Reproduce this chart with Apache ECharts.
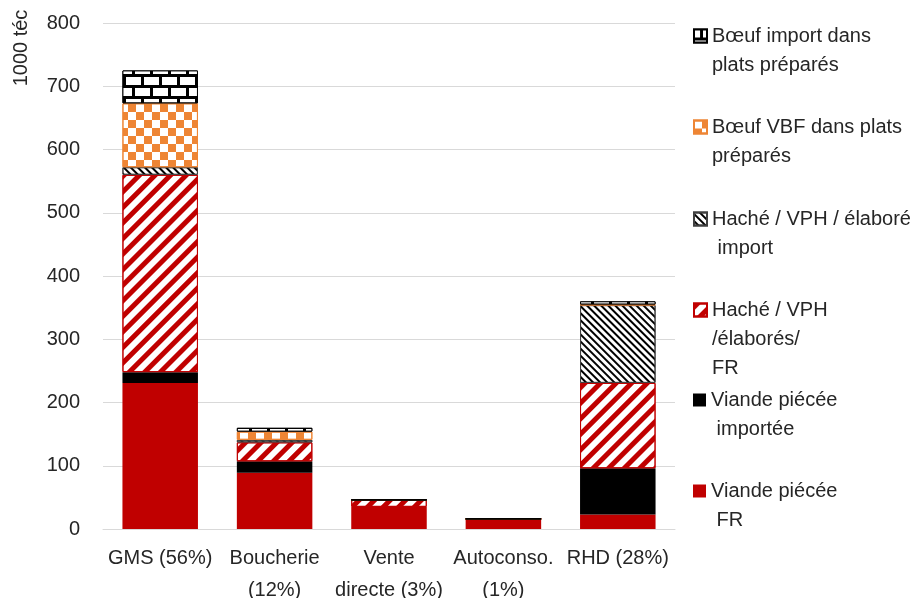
<!DOCTYPE html>
<html><head><meta charset="utf-8">
<script src="https://cdn.jsdelivr.net/npm/echarts@6/dist/echarts.min.js"></script>
<style>html,body{margin:0;padding:0;background:#fff}#c{width:919px;height:598px}</style>
</head><body><div id="c"></div>
<script>
var categories = ['GMS (56%)', 'Boucherie\n(12%)', 'Vente\ndirecte (3%)', 'Autoconso.\n(1%)', 'RHD (28%)'];
var yTicks = [0, 100, 200, 300, 400, 500, 600, 700, 800];
var viandeFR = [231, 89, 35, 16, 23];
var viandeImport = [17, 18, 0, 0, 73];
var hacheFR = [312, 30, 11, 0, 135];
var hacheImport = [12, 4, 0, 0, 123];
var boeufVBFPlats = [101, 13, 0, 0, 1];
var boeufImportPlats = [52, 6, 0, 0, 5];
var seriesNames = [
  'Viande piécée\n FR',
  'Viande piécée\n importée',
  'Haché / VPH\n/élaborés/\nFR',
  'Haché / VPH / élaboré\n import',
  'Bœuf VBF dans plats\npréparés',
  'Bœuf import dans\nplats préparés'
];

var FONT = 'Liberation Sans';
var TXT = '#262626';
var chart = echarts.init(document.getElementById('c'), null, {renderer: 'canvas'});

var styles = [
  {color: '#C00000'},
  {color: '#000000'},
  {color: '#ffffff', borderColor: '#C00000', borderWidth: 1,
   decal: {symbol: 'rect', color: '#C00000', dashArrayX: [1, 0], dashArrayY: [5, 6], rotation: -Math.PI / 4, symbolKeepAspect: false, symbolSize: 1}},
  {color: '#ffffff', borderColor: '#404040', borderWidth: 1,
   decal: {symbol: 'rect', color: '#000000', dashArrayX: [1, 0], dashArrayY: [1.5, 2.5], rotation: Math.PI / 4, symbolKeepAspect: false, symbolSize: 1}},
  {color: '#ffffff', borderColor: '#EE8534', borderWidth: 1,
   decal: {symbol: 'rect', color: '#EE8534', dashArrayX: [[8, 8], [0, 8, 8, 0]], dashArrayY: [8, 0], symbolKeepAspect: false, symbolSize: 1}},
  {color: '#000000', borderColor: '#000000', borderWidth: 1,
   decal: {symbol: 'rect', color: '#ffffff', dashArrayX: [[15, 3], [6, 3, 9, 0]], dashArrayY: [8, 3], symbolKeepAspect: false, symbolSize: 1}}
];
var dataArrays = [viandeFR, viandeImport, hacheFR, hacheImport, boeufVBFPlats, boeufImportPlats];

var series = seriesNames.map(function (n, i) {
  return {
    name: n, type: 'bar', stack: 'total', barCategoryGap: '34%',
    data: dataArrays[i], itemStyle: styles[i],
    emphasis: {disabled: true}
  };
});

// legend: top-to-bottom order, first-line y centers
var legendOrder = [5, 4, 3, 2, 1, 0];
var legendFirstLineY = [36, 127, 219, 310, 400, 491];
var LH = 29;
var legends = legendOrder.map(function (si, k) {
  var n = seriesNames[si].split('\n').length;
  var pre = new Array(n).join(' \n');
  return {
    data: [seriesNames[si]], orient: 'vertical', left: 693,
    top: legendFirstLineY[k] - (2 * n - 1) * LH / 2,
    padding: 0, itemWidth: 13, itemHeight: 13, itemGap: 0, selectedMode: false,
    icon: 'rect',
    formatter: function (name) { return pre + name; },
    textStyle: {fontFamily: FONT, fontSize: 20, color: TXT, lineHeight: LH}
  };
});

chart.setOption({
  animation: false,
  textStyle: {fontFamily: FONT},
  grid: {left: 103, right: 244, top: 23, bottom: 69, containLabel: false, outerBoundsMode: 'none'},
  legend: legends,
  xAxis: {
    type: 'category', data: categories,
    axisLine: {lineStyle: {color: '#D9D9D9', width: 1}},
    axisTick: {show: false},
    axisLabel: {fontFamily: FONT, fontSize: 20, color: TXT, lineHeight: 32, margin: 13, interval: 0}
  },
  yAxis: {
    type: 'value', min: yTicks[0], max: yTicks[yTicks.length - 1], interval: 100,
    axisLine: {show: false}, axisTick: {show: false},
    splitLine: {lineStyle: {color: '#D9D9D9', width: 1}},
    axisLabel: {fontFamily: FONT, fontSize: 20, color: TXT, margin: 23}
  },
  graphic: [{
    type: 'text', x: 21, y: 48, rotation: Math.PI / 2,
    style: {text: '1000 téc', fontFamily: FONT, fontSize: 20, fill: TXT, align: 'center', verticalAlign: 'middle'}
  }],
  series: series
});
</script>
</body></html>
